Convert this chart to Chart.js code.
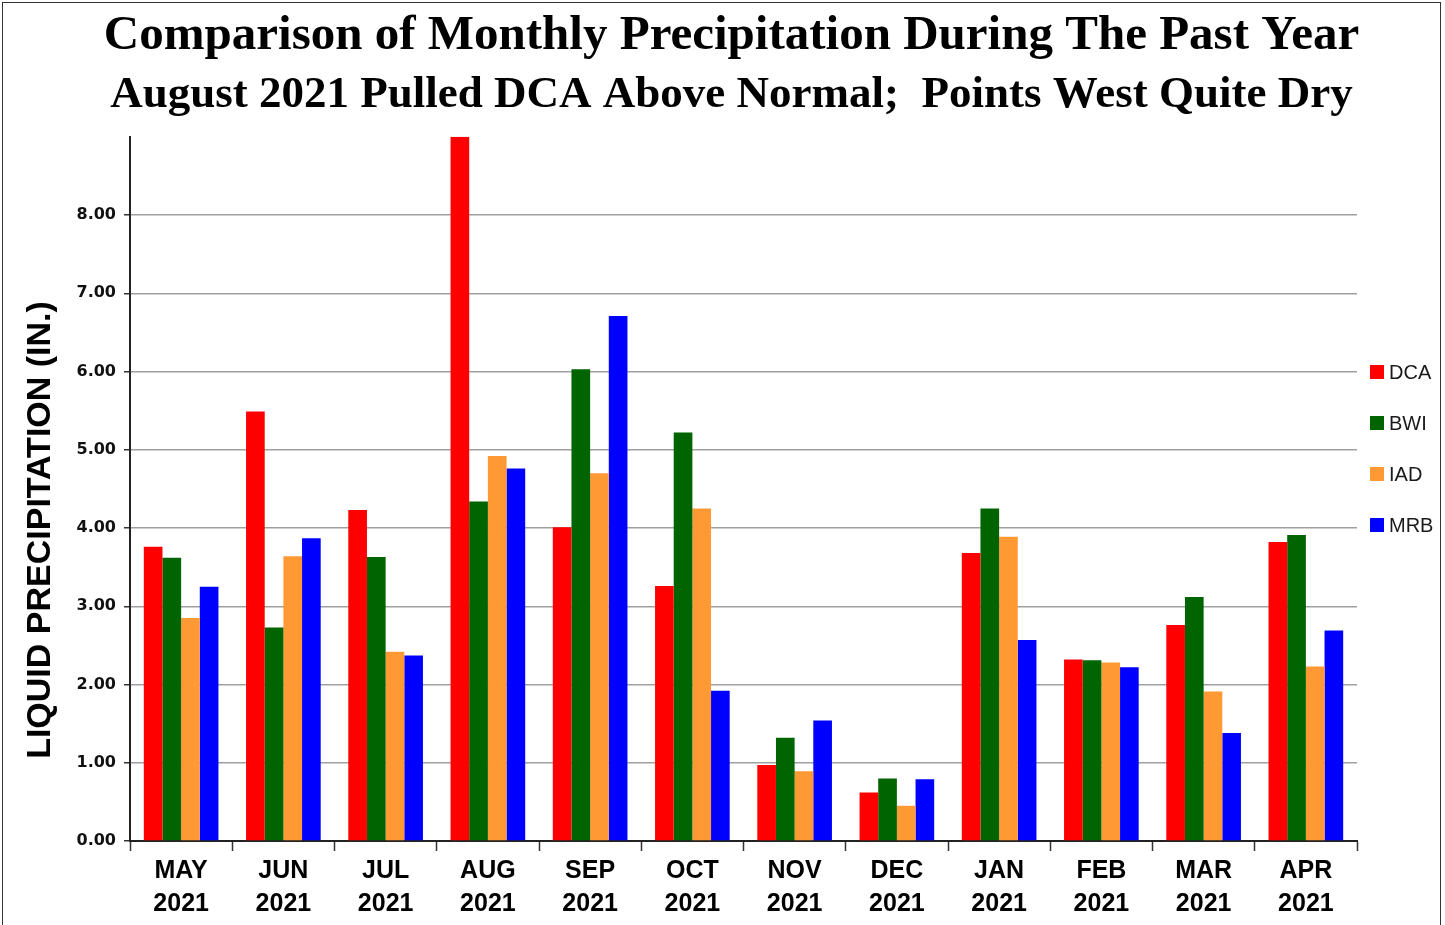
<!DOCTYPE html>
<html>
<head>
<meta charset="utf-8">
<script src="https://cdn.jsdelivr.net/npm/chart.js@4"></script>
<style>
  html, body { margin: 0; padding: 0; background: #fff; }
  #wrap { position: relative; width: 1445px; height: 925px; overflow: hidden; }
  #frame { position: absolute; left: 2px; top: 2px; width: 1437px; height: 960px; border: 1.5px solid #333; pointer-events: none; }
  canvas { position: absolute; left: 0; top: 0; }
</style>
</head>
<body>
<div id="wrap">
  <canvas id="precipChart" width="1445" height="925"></canvas>
  <div id="frame"></div>
</div>
<script>
// mois et annees (etiquettes telles qu'elles figurent sur le graphique)
const mois = ['MAY', 'JUN', 'JUL', 'AUG', 'SEP', 'OCT', 'NOV', 'DEC', 'JAN', 'FEB', 'MAR', 'APR'];
const annees = ['2021', '2021', '2021', '2021', '2021', '2021', '2021', '2021', '2021', '2021', '2021', '2021'];

// precipitations en pouces
const dca = [3.76, 5.49, 4.23, 9.00, 4.01, 3.26, 0.97, 0.62, 3.68, 2.32, 2.76, 3.82];
const bwi = [3.62, 2.73, 3.63, 4.34, 6.03, 5.22, 1.32, 0.80, 4.25, 2.31, 3.12, 3.91];
const iad = [2.85, 3.64, 2.42, 4.92, 4.70, 4.25, 0.89, 0.45, 3.89, 2.28, 1.91, 2.23];
const mrb = [3.25, 3.87, 2.37, 4.76, 6.71, 1.92, 1.54, 0.79, 2.57, 2.22, 1.38, 2.69];

const yTicks = [0, 1, 2, 3, 4, 5, 6, 7, 8];
const yMax = 9;

const titre = 'Comparison of Monthly Precipitation During The Past Year';
const sousTitre = 'August 2021 Pulled DCA Above Normal;  Points West Quite Dry';
const titreAxeY = 'LIQUID PRECIPITATION (IN.)';

const labels = mois.map((m, i) => [m, annees[i]]);

// legende a droite + titre vertical de l'axe, comme dans l'original
const decor = {
    id: 'decor',
    afterDraw(chart) {
        const c = chart.ctx;
        const area = chart.chartArea;
        const x = area.right + 13;
        const y0 = 372;
        const pas = 51;
        c.save();
        c.font = '20px "Liberation Sans", Arial, sans-serif';
        c.textBaseline = 'middle';
        chart.data.datasets.forEach((ds, i) => {
            const y = y0 + i * pas;
            c.fillStyle = ds.backgroundColor;
            c.fillRect(x, y - 7, 14, 14);
            c.fillStyle = '#1a1a1a';
            c.fillText(ds.label, x + 19, y + 1);
        });

        // titre de l'axe Y
        c.translate(41, 530);
        c.rotate(-Math.PI / 2);
        c.font = 'bold 34px "Liberation Sans", Arial, sans-serif';
        c.fillStyle = '#000';
        c.textAlign = 'center';
        c.textBaseline = 'middle';
        c.fillText(titreAxeY, 0, 0);
        c.restore();
    }
};

const ctx = document.getElementById('precipChart').getContext('2d');
const precipChart = new Chart(ctx, {
    type: 'bar',
    data: {
        labels: labels,
        datasets: [
            { label: 'DCA', data: dca, backgroundColor: '#FF0000' },
            { label: 'BWI', data: bwi, backgroundColor: '#006400' },
            { label: 'IAD', data: iad, backgroundColor: '#FF9933' },
            { label: 'MRB', data: mrb, backgroundColor: '#0000FF' }
        ]
    },
    options: {
        responsive: false,
        animation: false,
        devicePixelRatio: 1,
        layout: { padding: { left: 18, right: 0, top: 0, bottom: 8 } },
        datasets: {
            bar: { categoryPercentage: 0.73, barPercentage: 1.0, borderWidth: 0 }
        },
        plugins: {
            legend: { display: false },
            tooltip: { enabled: false },
            title: {
                display: true,
                text: titre,
                color: '#000',
                font: { family: '"Liberation Serif", "Times New Roman", serif', size: 49, weight: 'bold' },
                padding: { top: 7, bottom: 0 }
            },
            subtitle: {
                display: true,
                text: sousTitre,
                color: '#000',
                font: { family: '"Liberation Serif", "Times New Roman", serif', size: 45, weight: 'bold' },
                padding: { top: 3, bottom: 14 }
            }
        },
        scales: {
            x: {
                offset: true,
                grid: {
                    offset: true,
                    drawOnChartArea: false,
                    drawTicks: true,
                    tickLength: 10,
                    tickColor: '#333',
                    tickWidth: 1.5
                },
                border: { color: '#222', width: 2 },
                ticks: {
                    color: '#000',
                    padding: 4,
                    maxRotation: 0,
                    autoSkip: false,
                    font: { family: '"Liberation Sans", Arial, sans-serif', size: 25, weight: 'bold', lineHeight: 1.3 }
                },
                afterFit(scale) { scale.height = 76; }
            },
            y: {
                min: 0,
                max: yMax,
                afterBuildTicks(scale) {
                    scale.ticks = yTicks.concat([yMax]).map(v => ({ value: v }));
                },
                grid: {
                    color: ctx => (ctx.tick && ctx.tick.value === yMax) ? 'rgba(0,0,0,0)' : '#a0a0a0',
                    lineWidth: 1.5,
                    tickLength: 6,
                    tickColor: ctx => (ctx.tick && ctx.tick.value === yMax) ? 'rgba(0,0,0,0)' : '#333'
                },
                border: { color: '#222', width: 2 },
                ticks: {
                    color: '#111',
                    padding: 8,
                    font: { family: '"DejaVu Sans", Verdana, sans-serif', size: 16, weight: 'bold' },
                    callback: v => v === yMax ? '' : v.toFixed(2)
                },
                afterFit(scale) { scale.width = 112; }
            },
            // place reservee a la legende, a droite
            yLegende: {
                position: 'right',
                display: true,
                grid: { display: false },
                border: { display: false },
                ticks: { display: false },
                afterFit(scale) { scale.width = 88; }
            }
        }
    },
    plugins: [decor]
});
</script>
</body>
</html>
